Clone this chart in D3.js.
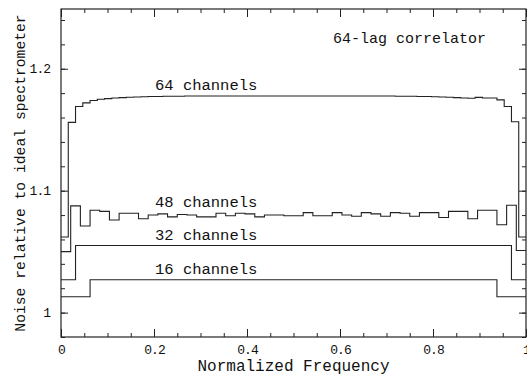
<!DOCTYPE html>
<html>
<head>
<meta charset="utf-8">
<script src="https://cdn.jsdelivr.net/npm/d3@7"></script>
<style>
  body { margin: 0; background: #fff; }
  text { font-family: "Liberation Mono", monospace; fill: #111; }
</style>
</head>
<body>
<div id="chart"></div>
<script>
let width = 527;
let height = 377;
let margin = ({top: 9, right: 1, bottom: 40, left: 61});

// noise per channel (channels run left to right)
const ch16 = [1.013, 1.027, 1.027, 1.027, 1.027, 1.027, 1.027, 1.027,
              1.027, 1.027, 1.027, 1.027, 1.027, 1.027, 1.027, 1.013];

const ch32 = [1.027, 1.055, 1.055, 1.055, 1.055, 1.055, 1.055, 1.055,
              1.055, 1.055, 1.055, 1.055, 1.055, 1.055, 1.055, 1.055,
              1.055, 1.055, 1.055, 1.055, 1.055, 1.055, 1.055, 1.055,
              1.055, 1.055, 1.055, 1.055, 1.055, 1.055, 1.055, 1.027];

const ch48 = [1.050, 1.0875, 1.071, 1.084, 1.083, 1.076, 1.0815, 1.0815,
              1.077, 1.080, 1.081, 1.0785, 1.0805, 1.080, 1.0785, 1.0785,
              1.0815, 1.0795, 1.0815, 1.081, 1.0785, 1.080, 1.080, 1.0795,
              1.0795, 1.082, 1.0795, 1.0795, 1.082, 1.080, 1.079, 1.082,
              1.081, 1.079, 1.082, 1.0815, 1.079, 1.082, 1.082, 1.078,
              1.083, 1.083, 1.077, 1.084, 1.084, 1.072, 1.088, 1.051];

const ch64 = [1.062, 1.156, 1.169, 1.172, 1.174, 1.175, 1.1755, 1.176,
              1.1763, 1.1766, 1.1768, 1.177, 1.1772, 1.1773, 1.1774, 1.1775,
              1.1775, 1.1776, 1.1776, 1.1776, 1.1777, 1.1777, 1.1777, 1.1777,
              1.1777, 1.1777, 1.1777, 1.1777, 1.1777, 1.1777, 1.1777, 1.1777,
              1.1777, 1.1777, 1.1777, 1.1777, 1.1777, 1.1777, 1.1777, 1.1777,
              1.1777, 1.1777, 1.1777, 1.1776, 1.1776, 1.1776, 1.1775, 1.1775,
              1.1774, 1.1773, 1.1772, 1.177, 1.1768, 1.1766, 1.1763, 1.176,
              1.1758, 1.1765, 1.176, 1.176, 1.1745, 1.169, 1.1565, 1.062];

const seriesNames = ["16 channels", "32 channels", "48 channels", "64 channels"];
const xTicks = [0, 0.2, 0.4, 0.6, 0.8, 1];
const xTickLabels = ["0", "0.2", "0.4", "0.6", "0.8", "1"];
const yTicks = [1, 1.1, 1.2];
const yTickLabels = ["1", "1.1", "1.2"];

const allSeries = [ch16, ch32, ch48, ch64];

const x = d3.scaleLinear().domain([0, 1]).range([margin.left, width - margin.right]);
const y = d3.scaleLinear().domain([0.98, 1.249]).range([height - margin.bottom, margin.top]);

const svg = d3.select("#chart").append("svg")
    .attr("width", width)
    .attr("height", height);

// turn channel values into step points: one per channel start, plus the end
function steps(vals) {
  const n = vals.length;
  const pts = vals.map((v, i) => [i / n, v]);
  pts.push([1, vals[n - 1]]);
  return pts;
}

const line = d3.line()
    .x(d => x(d[0]))
    .y(d => y(d[1]))
    .curve(d3.curveStepAfter);

svg.append("g")
    .attr("fill", "none")
    .attr("stroke", "#222")
    .attr("stroke-width", 1.1)
  .selectAll("path")
  .data(allSeries)
  .join("path")
    .attr("d", d => line(steps(d)));

// axes, ticks pointing inward on all four sides
const xMinor = x.ticks(20);
const yMinor = d3.ticks(0.98, 1.249, 14);

function styleAxis(g) {
  g.select(".domain").remove();
  g.selectAll("line").attr("stroke", "#222");
  g.selectAll("text").style("font-size", "13px").style("letter-spacing", "-1px");
}

svg.append("g")
    .attr("transform", `translate(0,${y.range()[0]})`)
    .call(d3.axisBottom(x).tickValues(xMinor).tickSize(-4).tickFormat(""))
    .call(styleAxis);
svg.append("g")
    .attr("transform", `translate(0,${y.range()[0]})`)
    .call(d3.axisBottom(x).tickValues(xTicks).tickSize(-8).tickPadding(8)
      .tickFormat((d, i) => xTickLabels[i]))
    .call(styleAxis);
svg.append("g")
    .attr("transform", `translate(0,${y.range()[1]})`)
    .call(d3.axisTop(x).tickValues(xMinor).tickSize(-4).tickFormat(""))
    .call(styleAxis);
svg.append("g")
    .attr("transform", `translate(0,${y.range()[1]})`)
    .call(d3.axisTop(x).tickValues(xTicks).tickSize(-8).tickFormat(""))
    .call(styleAxis);

svg.append("g")
    .attr("transform", `translate(${x.range()[0]},0)`)
    .call(d3.axisLeft(y).tickValues(yMinor).tickSize(-4).tickFormat(""))
    .call(styleAxis);
svg.append("g")
    .attr("transform", `translate(${x.range()[0]},0)`)
    .call(d3.axisLeft(y).tickValues(yTicks).tickSize(-7).tickPadding(11)
      .tickFormat((d, i) => yTickLabels[i]))
    .call(styleAxis);
svg.append("g")
    .attr("transform", `translate(${x.range()[1]},0)`)
    .call(d3.axisRight(y).tickValues(yMinor).tickSize(-4).tickFormat(""))
    .call(styleAxis);
svg.append("g")
    .attr("transform", `translate(${x.range()[1]},0)`)
    .call(d3.axisRight(y).tickValues(yTicks).tickSize(-7).tickFormat(""))
    .call(styleAxis);

// frame
svg.append("rect")
    .attr("x", x.range()[0])
    .attr("y", y.range()[1])
    .attr("width", x.range()[1] - x.range()[0])
    .attr("height", y.range()[0] - y.range()[1])
    .attr("fill", "none")
    .attr("stroke", "#222")
    .attr("stroke-width", 1.2);

// series labels, sitting just above each plateau
const labelAt = [ch16[8], ch32[16], d3.max(ch48.slice(10, 20)), ch64[20]];
svg.append("g")
  .selectAll("text")
  .data(seriesNames)
  .join("text")
    .attr("x", x(0.2) + 1)
    .attr("y", (d, i) => y(labelAt[i]) - 6)
    .style("font-size", "15.5px")
    .text(d => d);

svg.append("text")
    .attr("x", x(0.585))
    .attr("y", 43)
    .style("font-size", "15px")
    .text("64-lag correlator");

svg.append("text")
    .attr("x", (x.range()[0] + x.range()[1]) / 2)
    .attr("y", 371)
    .attr("text-anchor", "middle")
    .style("font-size", "16px")
    .text("Normalized Frequency");

svg.append("text")
    .attr("transform", `translate(25,${(y.range()[0] + y.range()[1]) / 2}) rotate(-90)`)
    .attr("text-anchor", "middle")
    .style("font-size", "14.7px")
    .text("Noise relative to ideal spectrometer");
</script>
</body>
</html>
